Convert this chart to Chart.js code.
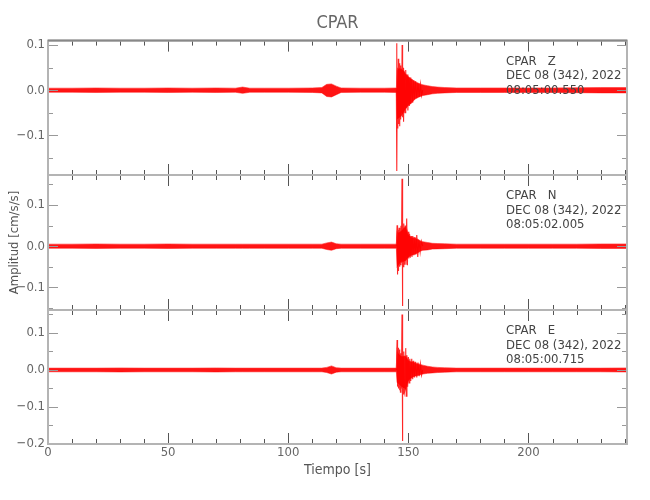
<!DOCTYPE html>
<html>
<head>
<meta charset="utf-8">
<title>CPAR</title>
<script src="https://cdn.jsdelivr.net/npm/chart.js@4.4.0/dist/chart.umd.min.js"></script>
<style>
  body { margin: 0; background: #fff; }
  #wrap { position: relative; width: 650px; height: 500px; }
  #wrap canvas { position: absolute; left: 0; top: 0; }
</style>
</head>
<body>
<div id="wrap">
  <canvas id="chart-z" width="650" height="500"></canvas>
  <canvas id="chart-n" width="650" height="500"></canvas>
  <canvas id="chart-e" width="650" height="500"></canvas>
</div>
<script>
const station = "CPAR";
const components = ["Z", "N", "E"];
const dateLabel = "DEC 08 (342), 2022";
const startTimes = ["08:05:00.550", "08:05:02.005", "08:05:00.715"];

const xTicks = [0, 50, 100, 150, 200];
const zTicks = [-0.1, 0, 0.1];
const nTicks = [-0.1, 0, 0.1];
const eTicks = [-0.2, -0.1, 0, 0.1];

// envelope of the trace (upper / lower amplitude), cm/s/s
const bandTimes = [0, 10, 20, 30, 40, 50, 60, 70, 78, 81, 84, 90, 100, 110, 114, 116, 118, 120, 122, 130, 140, 145,
  145.3, 146, 147, 148, 149, 150, 151, 152, 153, 154, 155, 156, 158, 160, 162, 165, 170, 180, 190, 200, 210, 220, 230, 241];

const zUpper = [0.0045, 0.0045, 0.005, 0.0045, 0.0045, 0.005, 0.0045, 0.005, 0.0045, 0.007, 0.0045, 0.0045, 0.0045, 0.005,
  0.006, 0.013, 0.014, 0.009, 0.005, 0.0045, 0.0045, 0.005,
  0.045, 0.05, 0.048, 0.045, 0.036, 0.03, 0.026, 0.022, 0.019, 0.016, 0.014, 0.012, 0.01, 0.008, 0.007, 0.006,
  0.005, 0.005, 0.005, 0.005, 0.005, 0.0055, 0.006, 0.006];
const zLower = [-0.0045, -0.0045, -0.005, -0.0045, -0.0045, -0.005, -0.0045, -0.005, -0.0045, -0.007, -0.0045, -0.0045, -0.0045, -0.005,
  -0.006, -0.014, -0.015, -0.01, -0.005, -0.0045, -0.0045, -0.005,
  -0.065, -0.062, -0.058, -0.05, -0.04, -0.034, -0.03, -0.024, -0.019, -0.016, -0.014, -0.012, -0.01, -0.008, -0.007, -0.006,
  -0.005, -0.005, -0.005, -0.005, -0.005, -0.0055, -0.006, -0.006];

const nUpper = [0.005, 0.005, 0.0055, 0.005, 0.005, 0.0055, 0.005, 0.005, 0.005, 0.005, 0.005, 0.005, 0.005, 0.005,
  0.005, 0.008, 0.01, 0.006, 0.005, 0.005, 0.005, 0.005,
  0.038, 0.034, 0.038, 0.045, 0.048, 0.03, 0.023, 0.021, 0.02, 0.017, 0.013, 0.011, 0.009, 0.007, 0.0065, 0.006,
  0.005, 0.005, 0.005, 0.005, 0.005, 0.005, 0.0055, 0.0055];
const nLower = [-0.005, -0.005, -0.0055, -0.005, -0.005, -0.0055, -0.005, -0.005, -0.005, -0.005, -0.005, -0.005, -0.005, -0.005,
  -0.005, -0.008, -0.01, -0.006, -0.005, -0.005, -0.005, -0.005,
  -0.052, -0.045, -0.038, -0.038, -0.035, -0.027, -0.023, -0.021, -0.019, -0.016, -0.012, -0.01, -0.009, -0.007, -0.0065, -0.006,
  -0.005, -0.005, -0.005, -0.005, -0.005, -0.005, -0.0055, -0.0055];

const eUpper = [0.005, 0.005, 0.005, 0.0055, 0.005, 0.005, 0.005, 0.0055, 0.005, 0.005, 0.005, 0.005, 0.005, 0.005,
  0.005, 0.007, 0.011, 0.006, 0.005, 0.005, 0.005, 0.005,
  0.06, 0.045, 0.038, 0.038, 0.038, 0.027, 0.023, 0.023, 0.019, 0.017, 0.015, 0.013, 0.01, 0.008, 0.007, 0.006,
  0.005, 0.005, 0.005, 0.005, 0.005, 0.005, 0.005, 0.0055];
const eLower = [-0.005, -0.005, -0.005, -0.0055, -0.005, -0.005, -0.005, -0.0055, -0.005, -0.005, -0.005, -0.005, -0.005, -0.005,
  -0.005, -0.007, -0.011, -0.006, -0.005, -0.005, -0.005, -0.005,
  -0.034, -0.038, -0.045, -0.049, -0.052, -0.03, -0.023, -0.019, -0.016, -0.015, -0.013, -0.011, -0.009, -0.008, -0.007, -0.006,
  -0.005, -0.005, -0.005, -0.005, -0.005, -0.005, -0.005, -0.0055];

// individual swings of the P/S arrivals and early coda
const zPeakT = [145.0, 145.1, 145.25, 145.4, 145.6, 145.8, 146.0, 146.2, 146.4, 146.6, 146.8, 147.0, 147.2, 147.4, 147.6,
  147.8, 148.0, 148.3, 148.6, 148.9, 149.2, 149.5, 149.8, 150.1, 150.4, 150.7, 151.0, 151.4, 151.8, 152.2, 152.6, 153.0,
  153.5, 154.0, 154.5, 155.0, 155.5, 156.0];
const zPeakV = [0, 0.104, -0.179, 0.05, -0.085, 0.07, -0.075, 0.06, -0.08, 0.055, -0.065, 0.045, -0.05, 0.1, -0.06,
  0.05, -0.07, 0.04, -0.05, 0.045, -0.04, 0.035, -0.045, 0.03, -0.035, 0.028, -0.03, 0.025, -0.028, 0.022, -0.02, 0.02,
  -0.018, 0.016, -0.015, 0.013, -0.012, 0];

const nPeakT = [145.0, 145.3, 145.5, 145.7, 145.9, 146.1, 146.3, 146.5, 146.7, 146.9, 147.1, 147.35, 147.5, 147.7, 147.9,
  148.1, 148.4, 148.7, 149.0, 149.3, 149.6, 149.9, 150.2, 150.5, 150.8, 151.1, 151.5, 151.9, 152.3, 152.7, 153.1, 153.5,
  153.9, 154.4, 154.9, 155.4, 156.0];
const nPeakV = [0, 0.051, -0.069, 0.04, -0.06, 0.045, -0.05, 0.035, -0.045, 0.05, -0.04, 0.164, -0.145, 0.04, -0.05,
  0.055, -0.045, 0.05, -0.045, 0.067, -0.046, 0.035, -0.03, 0.03, -0.028, 0.025, -0.026, 0.024, -0.022, 0.022, -0.02, 0.027,
  -0.026, 0.015, -0.014, 0.012, 0];

const ePeakT = [145.0, 145.3, 145.5, 145.7, 145.9, 146.1, 146.3, 146.5, 146.7, 146.9, 147.1, 147.35, 147.5, 147.7, 147.9,
  148.1, 148.4, 148.7, 148.9, 149.1, 149.4, 149.7, 150.0, 150.3, 150.6, 151.0, 151.4, 151.8, 152.2, 152.6, 153.0, 153.5,
  154.0, 154.5, 155.0, 155.5, 156.0];
const ePeakV = [0, 0.081, -0.045, 0.06, -0.05, 0.055, -0.055, 0.05, -0.06, 0.045, -0.05, 0.15, -0.192, 0.04, -0.065,
  0.05, -0.06, -0.05, 0.059, -0.071, 0.04, -0.045, 0.035, -0.035, 0.03, -0.03, 0.03, -0.025, 0.025, -0.02, 0.022, -0.02,
  0.02, -0.017, 0.016, -0.014, 0];

const FONT = "'Liberation Sans Narrow', 'DejaVu Sans Condensed', 'Liberation Sans', sans-serif";
const TRACE = "rgba(255, 0, 0, 0.92)";

function toPoints(times, values) {
  return times.map((t, i) => ({ x: t, y: values[i] }));
}

function fmtTick(v) {
  if (Math.abs(v) < 1e-9) return "0.0";
  return v < 0 ? "\u2212" + Math.abs(v).toFixed(1) : v.toFixed(1);
}

// inward ticks on all four sides + grey frame
const panelFrame = {
  id: "panelFrame",
  afterDatasetsDraw(chart, args, opts) {
    const { ctx, chartArea: a } = chart;
    const xs = chart.scales.x;
    const ys = chart.scales.y;
    ctx.save();
    ctx.lineWidth = 1;
    ctx.strokeStyle = "#555";
    ctx.beginPath();
    for (let t = 0; t <= xs.max; t += 10) {
      const px = Math.round(xs.getPixelForValue(t)) + 0.5;
      const len = xTicks.includes(t) ? 11 : 5;
      ctx.moveTo(px, a.top); ctx.lineTo(px, a.top + len);
      ctx.moveTo(px, a.bottom); ctx.lineTo(px, a.bottom - len);
    }
    ctx.stroke();

    ctx.strokeStyle = "#999";
    ctx.beginPath();
    for (let k = Math.ceil(ys.min / 0.05 - 1e-6); k * 0.05 <= ys.max + 1e-6; k++) {
      const py = Math.round(ys.getPixelForValue(k * 0.05)) + 0.5;
      const len = k % 2 === 0 ? 10 : 5;
      ctx.moveTo(a.left, py); ctx.lineTo(a.left + len, py);
      ctx.moveTo(a.right, py); ctx.lineTo(a.right - len, py);
    }
    ctx.stroke();

    ctx.lineWidth = 2;
    ctx.strokeStyle = "#b4b4b4";
    ctx.strokeRect(a.left, a.top, a.width, a.height);
    if (opts.topColor) {
      ctx.strokeStyle = opts.topColor;
      ctx.beginPath();
      ctx.moveTo(a.left, a.top); ctx.lineTo(a.right, a.top);
      ctx.stroke();
    }
    ctx.restore();
  }
};

const stationText = {
  id: "stationText",
  afterDatasetsDraw(chart, args, opts) {
    const { ctx, chartArea: a } = chart;
    ctx.save();
    ctx.font = "13px " + FONT;
    ctx.fillStyle = "#444";
    ctx.textBaseline = "middle";
    opts.lines.forEach((txt, i) => ctx.fillText(txt, a.left + 458, a.top + 21 + i * 14.5));
    ctx.restore();
  }
};

function makePanel(id, idx, upper, lower, peakT, peakV, yMin, yMax, yTicks, extra) {
  const lineStyle = { pointRadius: 0, tension: 0, borderWidth: 1 };
  const showX = !!extra.showX;

  return new Chart(document.getElementById(id), {
    type: "line",
    data: {
      datasets: [
        { ...lineStyle, data: toPoints(bandTimes, upper), fill: "+1", backgroundColor: TRACE, borderColor: "rgba(255, 50, 50, 0.6)" },
        { ...lineStyle, data: toPoints(bandTimes, lower), fill: false, borderColor: "rgba(255, 50, 50, 0.6)" },
        { ...lineStyle, data: toPoints(peakT, peakV), fill: false, borderColor: "rgba(255, 0, 0, 0.85)", borderWidth: 1.1 }
      ]
    },
    options: {
      responsive: false,
      animation: false,
      layout: { padding: extra.padding },
      scales: {
        x: {
          type: "linear",
          min: 0,
          max: 241,
          display: showX,
          afterBuildTicks: (s) => { s.ticks = xTicks.map(v => ({ value: v })); },
          afterFit: (s) => { if (showX) s.height = 56; },
          ticks: { autoSkip: false, maxRotation: 0, padding: 1, color: "#666", font: { family: FONT, size: 13 } },
          grid: { display: false, drawTicks: false },
          border: { display: false },
          title: {
            display: showX,
            text: "Tiempo [s]",
            color: "#555",
            font: { family: FONT, size: 14 },
            padding: { top: 0, bottom: 21 }
          }
        },
        y: {
          type: "linear",
          min: yMin,
          max: yMax,
          afterBuildTicks: (s) => { s.ticks = yTicks.map(v => ({ value: v })); },
          afterFit: (s) => { s.width = 48; },
          ticks: { padding: 3, color: "#666", font: { family: FONT, size: 13 }, callback: fmtTick },
          grid: { display: false, drawTicks: false },
          border: { display: false },
          title: {
            display: !!extra.yTitle,
            text: extra.yTitle || "",
            color: "#555",
            font: { family: FONT, size: 13 },
            padding: { top: 7, bottom: 0 }
          }
        }
      },
      plugins: {
        legend: { display: false },
        tooltip: { enabled: false },
        title: {
          display: !!extra.title,
          text: extra.title || "",
          fullSize: false,
          color: "#666",
          font: { family: FONT, size: 18, weight: "normal" },
          padding: { top: 13, bottom: 6 }
        },
        panelFrame: { topColor: extra.topColor },
        stationText: { lines: [station + "   " + components[idx], dateLabel, startTimes[idx]] }
      }
    },
    plugins: [panelFrame, stationText]
  });
}

makePanel("chart-z", 0, zUpper, zLower, zPeakT, zPeakV, -0.188, 0.110, zTicks,
  { title: station, topColor: "#888", padding: { top: 0, left: 0, right: 23, bottom: 325 } });
makePanel("chart-n", 1, nUpper, nLower, nPeakT, nPeakV, -0.155, 0.173, nTicks,
  { yTitle: "Amplitud [cm/s/s]", padding: { top: 175, left: 0, right: 23, bottom: 190 } });
makePanel("chart-e", 2, eUpper, eLower, ePeakT, ePeakV, -0.200, 0.162, eTicks,
  { showX: true, padding: { top: 310, left: 0, right: 23, bottom: 0 } });
</script>
</body>
</html>
